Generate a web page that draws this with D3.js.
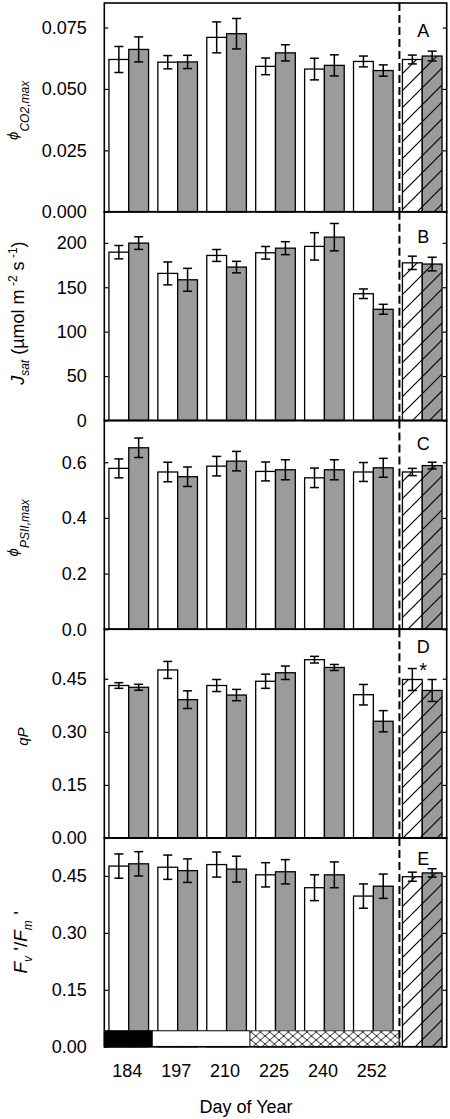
<!DOCTYPE html>
<html><head><meta charset="utf-8">
<script src="https://cdn.jsdelivr.net/npm/d3@7"></script>
<style>
body{margin:0;background:#fff}
svg{display:block}
text{font-family:"Liberation Sans",Arial,sans-serif;fill:#000}
</style>
</head><body>
<svg id="chart" width="450" height="1119"></svg>
<script>
// ---------- data ----------
const groups = ["184","197","210","225","240","252","All"];
const dayLabels = ["184","197","210","225","240","252",""];
const periodFill = ["solid","open","open","cross","cross","cross"];

// Panel A : phi CO2,max
const phiCO2Open = [0.0620,0.0609,0.0710,0.0592,0.0581,0.0612,0.0620];
const phiCO2OpenErr = [0.0053,0.0027,0.0063,0.0034,0.0044,0.0022,0.0018];
const phiCO2Filled = [0.0661,0.0610,0.0725,0.0647,0.0596,0.0575,0.0634];
const phiCO2FilledErr = [0.0051,0.0027,0.0062,0.0033,0.0043,0.0023,0.0020];
const phiCO2Ticks = [0,0.025,0.05,0.075];

// Panel B : Jsat
const jsatOpen = [189.5,165.6,185.8,188.8,196.0,142.7,177.5];
const jsatOpenErr = [7.5,12.9,6.7,7.1,15.4,5.4,7.5];
const jsatFilled = [199.7,158.4,172.7,194.0,206.4,125.2,176.1];
const jsatFilledErr = [7.1,12.9,6.5,7.3,15.4,5.6,7.7];
const jsatTicks = [0,50,100,150,200];

// Panel C : phi PSII,max
const psiiOpen = [0.578,0.565,0.586,0.567,0.544,0.565,0.565];
const psiiOpenErr = [0.034,0.035,0.035,0.034,0.035,0.034,0.013];
const psiiFilled = [0.652,0.548,0.604,0.573,0.573,0.580,0.588];
const psiiFilledErr = [0.035,0.035,0.035,0.036,0.036,0.034,0.012];
const psiiTicks = [0,0.2,0.4,0.6];

// Panel D : qP
const qpOpen = [0.431,0.475,0.431,0.443,0.504,0.405,0.448];
const qpOpenErr = [0.008,0.024,0.017,0.020,0.0094,0.029,0.031];
const qpFilled = [0.426,0.391,0.404,0.467,0.482,0.330,0.417];
const qpFilledErr = [0.0085,0.025,0.016,0.019,0.0085,0.030,0.031];
const qpTicks = [0,0.15,0.3,0.45];

// Panel E : Fv'/Fm'
const fvfmOpen = [0.476,0.473,0.480,0.453,0.419,0.397,0.448];
const fvfmOpenErr = [0.032,0.032,0.033,0.032,0.034,0.032,0.012];
const fvfmFilled = [0.482,0.464,0.468,0.461,0.453,0.423,0.458];
const fvfmFilledErr = [0.032,0.031,0.034,0.032,0.034,0.032,0.011];
const fvfmTicks = [0,0.15,0.3,0.45];

const panelLetters = ["A","B","C","D","E"];
const yMaxes = [0.085,235,0.75,0.59,0.55];
const tickFormats = [".3f","d",".1f",".2f",".2f"];
const sigMarks = [{panel:3, group:6, text:"*"}];
const xTitle = "Day of Year";

// ---------- layout ----------
const svg = d3.select("#chart");
const padL = 104.3, padR = 446.7, padT = 3, panelH = 208.75;
const greyFill = "#9b9b9b";

const defs = svg.append("defs");
function hatch(id, bg){
  const p = defs.append("pattern").attr("id",id).attr("patternUnits","userSpaceOnUse")
    .attr("width",17).attr("height",17);
  p.append("rect").attr("width",17).attr("height",17).attr("fill",bg);
  p.append("path").attr("d","M0,17L17,0M-4.25,4.25L4.25,-4.25M12.75,21.25L21.25,12.75")
    .attr("stroke","#000").attr("stroke-width",1.2);
}
hatch("hatchOpen","#fff");
hatch("hatchFilled",greyFill);
const cp = defs.append("pattern").attr("id","cross").attr("patternUnits","userSpaceOnUse")
  .attr("width",9.3).attr("height",8);
cp.append("rect").attr("width",9.3).attr("height",8).attr("fill","#fff");
cp.append("path").attr("d","M0,0L9.3,8M0,8L9.3,0").attr("stroke","#111").attr("stroke-width",0.9);

const x = d3.scaleBand().domain(groups).range([padL,padR]).paddingInner(0.19).paddingOuter(0.095);
const bw = x.bandwidth()/2;
const dashX = x(groups[6]) - 3;

const panels = [
  {open:phiCO2Open, openErr:phiCO2OpenErr, filled:phiCO2Filled, filledErr:phiCO2FilledErr, ticks:phiCO2Ticks,
   label:[{t:"ϕ",fs:15,it:1},{t:"CO2,max",fs:12,it:1,dy:11}], lx:18, ly:3, letterDy:28},
  {open:jsatOpen, openErr:jsatOpenErr, filled:jsatFilled, filledErr:jsatFilledErr, ticks:jsatTicks,
   label:[{t:"J",fs:18,it:1},{t:"sat",fs:12,it:1,dy:5},{t:"  (µmol m",fs:18,dy:-5},{t:" -2",fs:12,dy:-7},{t:"   s",fs:18,dy:7},{t:" -1",fs:12,dy:-7},{t:")",fs:18,dy:7}],
   lx:23.5, ly:-3, letterDy:25},
  {open:psiiOpen, openErr:psiiOpenErr, filled:psiiFilled, filledErr:psiiFilledErr, ticks:psiiTicks,
   label:[{t:"ϕ",fs:15,it:1},{t:"PSII,max",fs:12,it:1,dy:11}], lx:18, ly:3, letterDy:23},
  {open:qpOpen, openErr:qpOpenErr, filled:qpFilled, filledErr:qpFilledErr, ticks:qpTicks,
   label:[{t:"qP",fs:15,it:1}], lx:28, ly:3, letterDy:17},
  {open:fvfmOpen, openErr:fvfmOpenErr, filled:fvfmFilled, filledErr:fvfmFilledErr, ticks:fvfmTicks,
   label:[{t:"F",fs:19,it:1},{t:"v",fs:12,it:1,dy:5},{t:" '",fs:19,dy:-5},{t:"/",fs:19},{t:"F",fs:19,it:1},{t:"m",fs:12,it:1,dy:5},{t:" '",fs:19,dy:-5}],
   lx:27, ly:0, letterDy:21}
];

const runs = [];
periodFill.forEach((f,j)=>{
  if(runs.length && runs[runs.length-1].f===f) runs[runs.length-1].end = j;
  else runs.push({f, start:j, end:j});
});

panels.forEach((P,i)=>{
  const y0 = padT + i*panelH, y1 = y0 + panelH;
  const y = d3.scaleLinear().domain([0,yMaxes[i]]).range([y1,y0]);
  const g = svg.append("g");

  const series = [
    {vals:P.open, errs:P.openErr, off:0, fill:"#fff", hfill:"url(#hatchOpen)"},
    {vals:P.filled, errs:P.filledErr, off:bw, fill:greyFill, hfill:"url(#hatchFilled)"}
  ];
  series.forEach(s=>{
    g.selectAll(null).data(groups).enter().append("rect")
      .attr("x",(d)=>x(d)+s.off).attr("width",bw)
      .attr("y",(d,j)=>y(s.vals[j])).attr("height",(d,j)=>y(0)-y(s.vals[j]))
      .attr("fill",(d,j)=> j===6 ? s.hfill : s.fill)
      .attr("stroke","#000").attr("stroke-width",1.3);
  });
  series.forEach(s=>{
    const eg = g.selectAll(null).data(groups).enter().append("g")
      .attr("stroke","#000").attr("stroke-width",1.5).attr("fill","none");
    const cx = d=> x(d)+s.off+bw/2;
    eg.append("line").attr("x1",cx).attr("x2",cx)
      .attr("y1",(d,j)=>y(s.vals[j]-s.errs[j])).attr("y2",(d,j)=>y(s.vals[j]+s.errs[j]));
    [1,-1].forEach(sg=>{
      eg.append("line").attr("x1",d=>cx(d)-4.5).attr("x2",d=>cx(d)+4.5)
        .attr("y1",(d,j)=>y(s.vals[j]+sg*s.errs[j])).attr("y2",(d,j)=>y(s.vals[j]+sg*s.errs[j]));
    });
  });

  if(i===4){
    const sh = 16;
    const edge = j => j===0 ? padL : (j>=periodFill.length ? dashX : x(groups[j]) - x.step()*x.paddingInner()/2 - 1);
    runs.forEach(r=>{
      const xa = edge(r.start), xb = edge(r.end+1);
      g.append("rect").attr("x",xa).attr("y",y1-sh).attr("width",xb-xa).attr("height",sh)
        .attr("fill", r.f==="solid"?"#000": r.f==="cross"?"url(#cross)":"#fff")
        .attr("stroke", r.f==="cross" ? "#444" : "#000").attr("stroke-width",1);
    });
  }

  const ax = d3.axisLeft(y).tickValues(P.ticks).tickSize(-4).tickPadding(17.5).tickFormat(d3.format(tickFormats[i]));
  const ga = g.append("g").attr("transform",`translate(${padL},0)`).call(ax);
  ga.select(".domain").remove();
  ga.selectAll("line").attr("stroke","#000").attr("stroke-width",1.2);
  ga.selectAll("text").attr("font-size",18).attr("font-family",'"Liberation Sans",Arial,sans-serif').attr("fill","#000");
  const ar = d3.axisRight(y).tickValues(P.ticks).tickSize(-4).tickFormat("");
  const gr = g.append("g").attr("transform",`translate(${padR},0)`).call(ar);
  gr.select(".domain").remove();
  gr.selectAll("line").attr("stroke","#000").attr("stroke-width",1.2);

  g.append("rect").attr("x",padL).attr("y",y0).attr("width",padR-padL).attr("height",panelH)
    .attr("fill","none").attr("stroke","#000").attr("stroke-width",1.6);
  g.append("line").attr("x1",dashX).attr("x2",dashX).attr("y1",y0).attr("y2",y1)
    .attr("stroke","#000").attr("stroke-width",2).attr("stroke-dasharray","8,4");

  g.append("text").attr("x",x(groups[6])+x.bandwidth()/2+1).attr("y",y0+P.letterDy).attr("dy","0.35em")
    .attr("text-anchor","middle").attr("font-size",18).text(panelLetters[i]);

  const t = g.append("text").attr("text-anchor","middle")
    .attr("transform",`translate(${P.lx},${(y0+y1)/2+P.ly}) rotate(-90)`);
  P.label.forEach(p=>{
    t.append("tspan").text(p.t).attr("font-size",p.fs).attr("font-style",p.it?"italic":null).attr("dy",p.dy||0);
  });

  sigMarks.filter(m=>m.panel===i).forEach(m=>{
    const gName = groups[m.group];
    const topV = P.open[m.group]+P.openErr[m.group];
    g.append("text").attr("x",x(gName)+x.bandwidth()/2+1).attr("y",y(topV)+8)
      .attr("text-anchor","middle").attr("font-size",20).text(m.text);
  });
});

const bottomY = padT + 5*panelH;
svg.append("g").selectAll("text").data(groups).enter().append("text")
  .attr("x",d=>x(d)+x.bandwidth()/2-1.5).attr("y",bottomY+30.5)
  .attr("text-anchor","middle").attr("font-size",18).text((d,j)=>dayLabels[j]);
svg.append("text").attr("x",246).attr("y",bottomY+66).attr("text-anchor","middle")
  .attr("font-size",18).text(xTitle);
</script>
</body></html>
